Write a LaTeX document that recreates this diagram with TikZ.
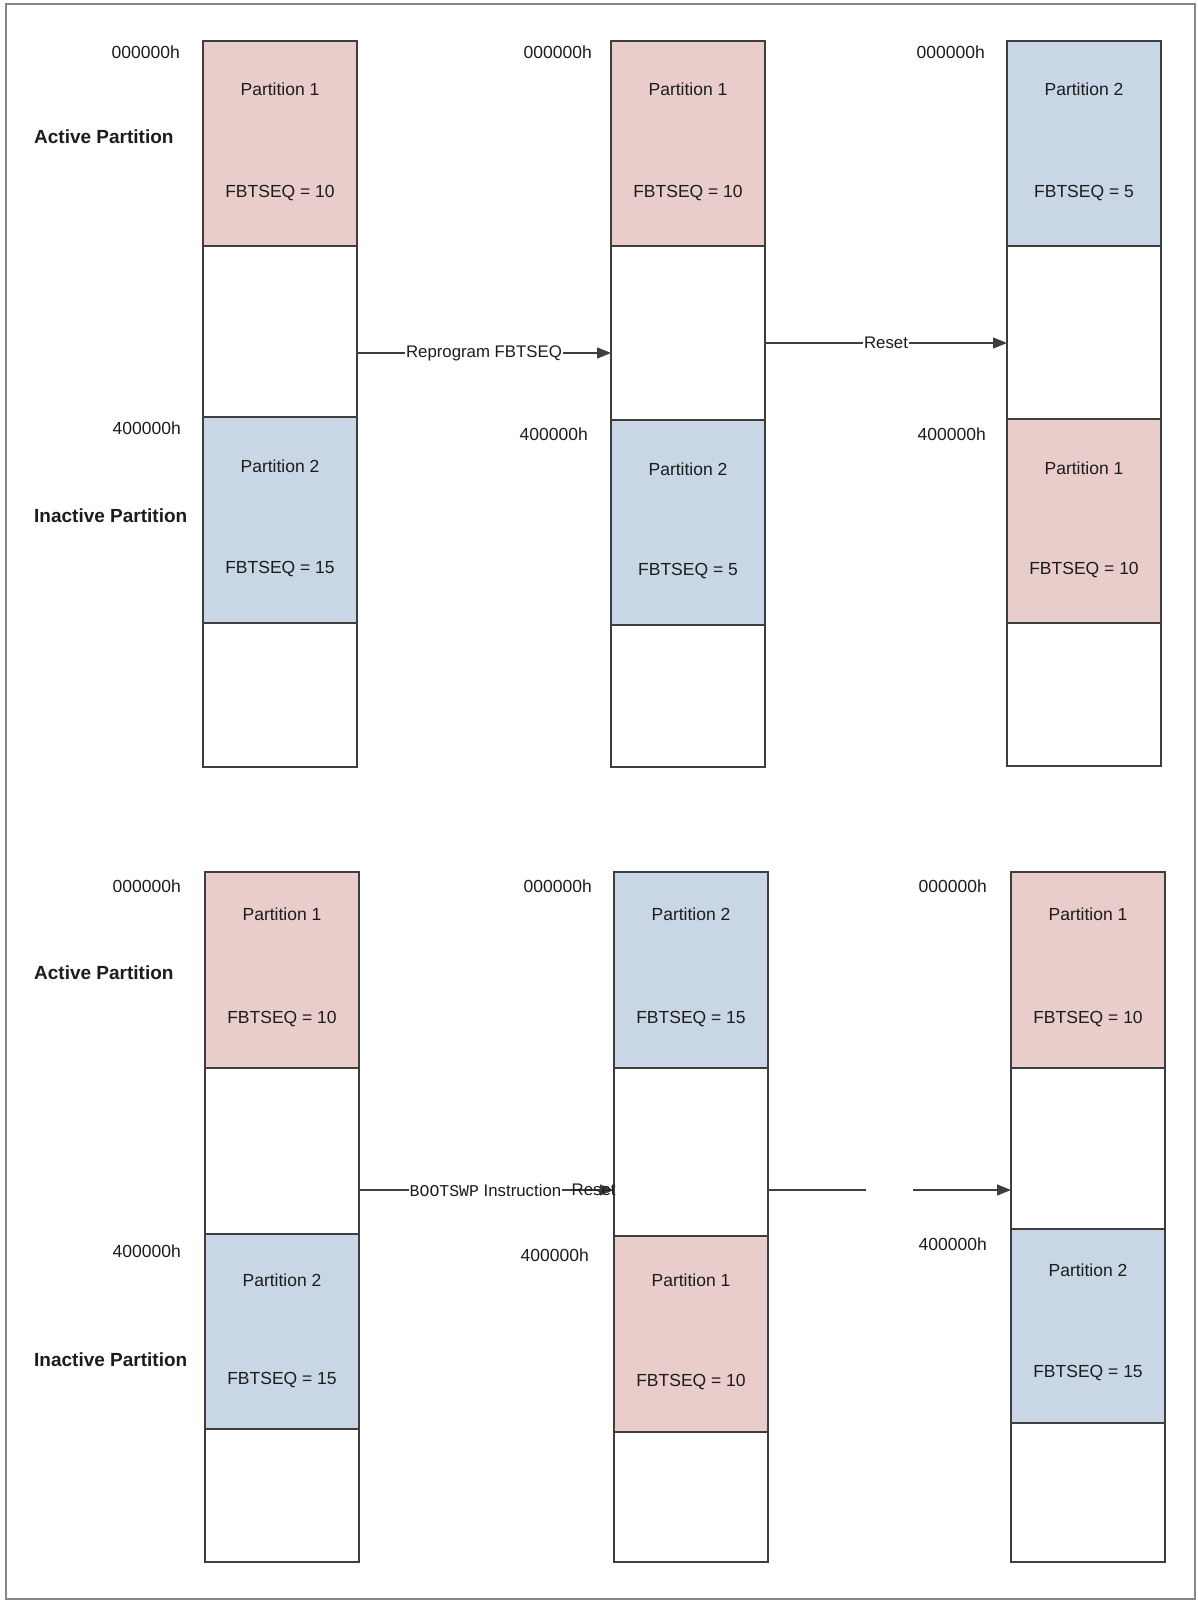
\documentclass[tikz,border=0pt]{standalone}
\usepackage{fontspec}
\setmainfont{Liberation Sans}
\newfontfamily\monof{Liberation Mono}
\usetikzlibrary{arrows.meta}
\definecolor{pinkc}{RGB}{233,205,203}
\definecolor{bluec}{RGB}{201,214,229}
\definecolor{edgec}{RGB}{62,62,62}
\definecolor{framec}{RGB}{135,135,135}
\definecolor{txtc}{RGB}{28,28,28}
\newcommand\mseg[5]{\node[seg, fill=#5, minimum height={(#4-#3)*1pt}] (#1) at (#2,#3) {};}
\begin{document}
\begin{tikzpicture}[x=1pt,y=-1pt,
 seg/.style={draw=edgec, line width=1.5pt, rectangle, anchor=north west, inner sep=0pt, outer sep=0pt, minimum width=154pt},
 txt/.style={font=\fontsize{17.5}{20}\selectfont, text=txtc, inner sep=0pt},
 addr/.style={txt, anchor=east},
 boldlbl/.style={font=\fontsize{19}{22}\selectfont\bfseries, text=txtc, inner sep=0pt, anchor=west},
 arrlbl/.style={font=\fontsize{16.8}{20}\selectfont, text=txtc, inner sep=1pt},
 arr/.style={draw=edgec, line width=1.3pt, -{Triangle[length=14pt,width=11pt]}},
 ln/.style={draw=edgec, line width=1.3pt}]
\useasboundingbox (0,0) rectangle (1198,1606);
\draw[framec, line width=2pt] (6,4) rectangle (1195,1599);

% ---------- top row ----------
\mseg{t1a}{203}{41}{246}{pinkc}
\mseg{t1b}{203}{246}{417}{white}
\mseg{t1c}{203}{417}{623}{bluec}
\mseg{t1d}{203}{623}{767}{white}
\mseg{t2a}{611}{41}{246}{pinkc}
\mseg{t2b}{611}{246}{420}{white}
\mseg{t2c}{611}{420}{625}{bluec}
\mseg{t2d}{611}{625}{767}{white}
\mseg{t3a}{1007}{41}{246}{bluec}
\mseg{t3b}{1007}{246}{419}{white}
\mseg{t3c}{1007}{419}{623}{pinkc}
\mseg{t3d}{1007}{623}{766}{white}

\node[txt] (t1an) at (280,89) {Partition 1};
\node[txt] (t1av) at (280,193) {FBTSEQ = 10};
\node[txt] (t1cn) at (280,466) {Partition 2};
\node[txt] (t1cv) at (280,569) {FBTSEQ = 15};
\node[txt] (t2an) at (688,89) {Partition 1};
\node[txt] (t2av) at (688,193) {FBTSEQ = 10};
\node[txt] (t2cn) at (688,469) {Partition 2};
\node[txt] (t2cv) at (688,571) {FBTSEQ = 5};
\node[txt] (t3an) at (1084,89) {Partition 2};
\node[txt] (t3av) at (1084,193) {FBTSEQ = 5};
\node[txt] (t3cn) at (1084,468) {Partition 1};
\node[txt] (t3cv) at (1084,570) {FBTSEQ = 10};

\node[addr] (ta1) at (180,52) {000000h};
\node[addr] (ta2) at (592,52) {000000h};
\node[addr] (ta3) at (985,52) {000000h};
\node[addr] (tb1) at (181,428) {400000h};
\node[addr] (tb2) at (588,434) {400000h};
\node[addr] (tb3) at (986,434) {400000h};
\node[boldlbl] (tact) at (34,137) {Active Partition};
\node[boldlbl] (tina) at (34,516) {Inactive Partition};

\draw[arr] ([yshift=-21.5pt]t1b.east) -- node[midway, arrlbl, fill=white] (l1) {Reprogram FBTSEQ} ([yshift=-20pt]t2b.west);
\draw[arr] ([yshift=-10pt]t2b.east) -- node[midway, arrlbl, fill=white] (l2) {Reset} ([yshift=-10.5pt]t3b.west);

% ---------- bottom row ----------
\mseg{b1a}{205}{872}{1068}{pinkc}
\mseg{b1b}{205}{1068}{1234}{white}
\mseg{b1c}{205}{1234}{1429}{bluec}
\mseg{b1d}{205}{1429}{1562}{white}
\mseg{b2a}{614}{872}{1068}{bluec}
\mseg{b2b}{614}{1068}{1236}{white}
\mseg{b2c}{614}{1236}{1432}{pinkc}
\mseg{b2d}{614}{1432}{1562}{white}
\mseg{b3a}{1011}{872}{1068}{pinkc}
\mseg{b3b}{1011}{1068}{1229}{white}
\mseg{b3c}{1011}{1229}{1423}{bluec}
\mseg{b3d}{1011}{1423}{1562}{white}

\node[txt] (b1an) at (282,914) {Partition 1};
\node[txt] (b1av) at (282,1019) {FBTSEQ = 10};
\node[txt] (b1cn) at (282,1280) {Partition 2};
\node[txt] (b1cv) at (282,1380) {FBTSEQ = 15};
\node[txt] (b2an) at (691,914) {Partition 2};
\node[txt] (b2av) at (691,1019) {FBTSEQ = 15};
\node[txt] (b2cn) at (691,1280) {Partition 1};
\node[txt] (b2cv) at (691,1382) {FBTSEQ = 10};
\node[txt] (b3an) at (1088,914) {Partition 1};
\node[txt] (b3av) at (1088,1019) {FBTSEQ = 10};
\node[txt] (b3cn) at (1088,1270) {Partition 2};
\node[txt] (b3cv) at (1088,1373) {FBTSEQ = 15};

\node[addr] (ba1) at (181,886) {000000h};
\node[addr] (ba2) at (592,886) {000000h};
\node[addr] (ba3) at (987,886) {000000h};
\node[addr] (bb1) at (181,1251) {400000h};
\node[addr] (bb2) at (589,1255) {400000h};
\node[addr] (bb3) at (987,1244) {400000h};
\node[boldlbl] (bact) at (34,973) {Active Partition};
\node[boldlbl] (bina) at (34,1360) {Inactive Partition};

\draw[arr] ([yshift=-39pt]b1b.east) --
  node[pos=0.496, arrlbl, fill=white] (l3) {{\monof\fontsize{16.5}{20}\selectfont BOOTSWP} Instruction}
  node[pos=0.92, arrlbl] (l4) {Reset}
  ([yshift=-38pt]b2b.west);
\coordinate (g1) at (866,1190);
\coordinate (g2) at (913,1190);
\draw[ln] ([yshift=-38pt]b2b.east) -- (g1);
\draw[arr] (g2) -- ([yshift=-41.5pt]b3b.west);
\end{tikzpicture}
\end{document}
